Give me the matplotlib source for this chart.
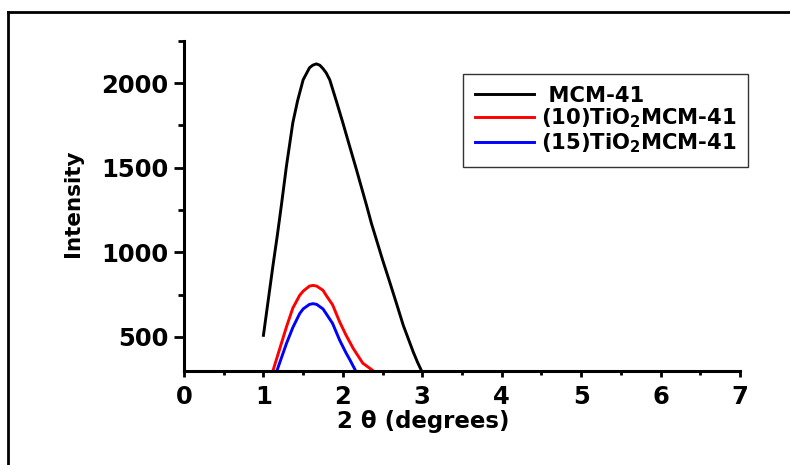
import matplotlib
matplotlib.use('Agg')
import matplotlib.pyplot as plt
from matplotlib.lines import Line2D
from matplotlib.ticker import MultipleLocator

plt.rcParams['font.family'] = 'DejaVu Sans'
plt.rcParams['font.weight'] = 'bold'
plt.rcParams['mathtext.fontset'] = 'dejavusans'

# values
x_mcm = [1.00, 1.06, 1.12, 1.175, 1.225, 1.29, 1.37, 1.43, 1.50, 1.58, 1.62, 1.667, 1.71,
         1.75, 1.79, 1.835, 1.92, 2.00, 2.08, 2.17, 2.30, 2.36, 2.42, 2.50, 2.59, 2.68,
         2.76, 2.885, 2.94, 2.99]
y_mcm = [509, 715, 921, 1100, 1274, 1510, 1765, 1895, 2019, 2090, 2105, 2113, 2105,
         2085, 2060, 2019, 1890, 1765, 1635, 1490, 1274, 1170, 1078, 955, 824, 690,
         569, 412, 350, 300]

x_ti10 = [1.12, 1.29, 1.37, 1.456, 1.50, 1.58, 1.625, 1.67, 1.75, 1.79, 1.87, 1.96, 2.04,
          2.13, 2.25, 2.38]
y_ti10 = [300, 559, 670, 745, 770, 800, 804, 800, 775, 745, 690, 588, 510, 432, 345, 300]

x_ti15 = [1.17, 1.29, 1.37, 1.456, 1.50, 1.58, 1.625, 1.67, 1.75, 1.79, 1.87, 1.96, 2.04,
          2.09, 2.16]
y_ti15 = [300, 461, 555, 637, 665, 692, 696, 692, 665, 637, 580, 480, 405, 363, 300]

labels = [' MCM-41', r'(10)TiO$_\mathbf{2}$MCM-41', r'(15)TiO$_\mathbf{2}$MCM-41']
colors = ['black', 'red', 'blue']

fig = plt.figure(figsize=(7.9, 4.65), dpi=100)
ax = fig.add_axes([184 / 790, 1 - 370.7 / 465, 556 / 790, 330 / 465])

for xs, ys, c, lab in zip([x_mcm, x_ti10, x_ti15], [y_mcm, y_ti10, y_ti15], colors, labels):
    ax.plot(xs, ys, color=c, lw=2.1, label=lab, solid_joinstyle='round')

ax.set_xlim(0, 7)
ax.set_ylim(300, 2250)

ax.spines['top'].set_visible(False)
ax.spines['right'].set_visible(False)
ax.spines['left'].set_linewidth(2.2)
ax.spines['bottom'].set_linewidth(2.2)

ax.xaxis.set_major_locator(MultipleLocator(1))
ax.xaxis.set_minor_locator(MultipleLocator(0.5))
ax.yaxis.set_major_locator(MultipleLocator(500))
ax.yaxis.set_minor_locator(MultipleLocator(250))

ax.tick_params(axis='x', which='major', direction='out', length=4, width=2, pad=6, labelsize=17.5)
ax.tick_params(axis='x', which='minor', direction='out', length=3, width=2)
ax.tick_params(axis='y', which='major', direction='out', length=7, width=2, pad=4, labelsize=17.5)
ax.tick_params(axis='y', which='minor', direction='out', length=4, width=2)
for t in ax.get_xticklabels() + ax.get_yticklabels():
    t.set_fontweight('bold')

ax.set_xlabel('2 θ (degrees)', fontsize=16.5, fontweight='bold', va='top')
ax.xaxis.set_label_coords(0.43, -0.12)
ax.set_ylabel('Intensity', fontsize=15.5, fontweight='bold')
ax.yaxis.set_label_coords(-0.182, 0.508)

leg = ax.legend(loc='upper left', bbox_to_anchor=(463 / 790, 1 - 74 / 465),
                bbox_transform=fig.transFigure, borderaxespad=0, fancybox=False,
                frameon=True, edgecolor='black', fontsize=15.2, handlelength=2.8,
                handletextpad=0.35, labelspacing=0.05, borderpad=0.55)
leg.get_frame().set_linewidth(1.0)

# outer frame around the picture
fig.add_artist(Line2D([8 / 790, 8 / 790], [0, 1 - 12 / 465], transform=fig.transFigure,
                      color='black', lw=2))
fig.add_artist(Line2D([8 / 790, 1], [1 - 12 / 465, 1 - 12 / 465], transform=fig.transFigure,
                      color='black', lw=2))

fig.savefig('out.png', dpi=100)
